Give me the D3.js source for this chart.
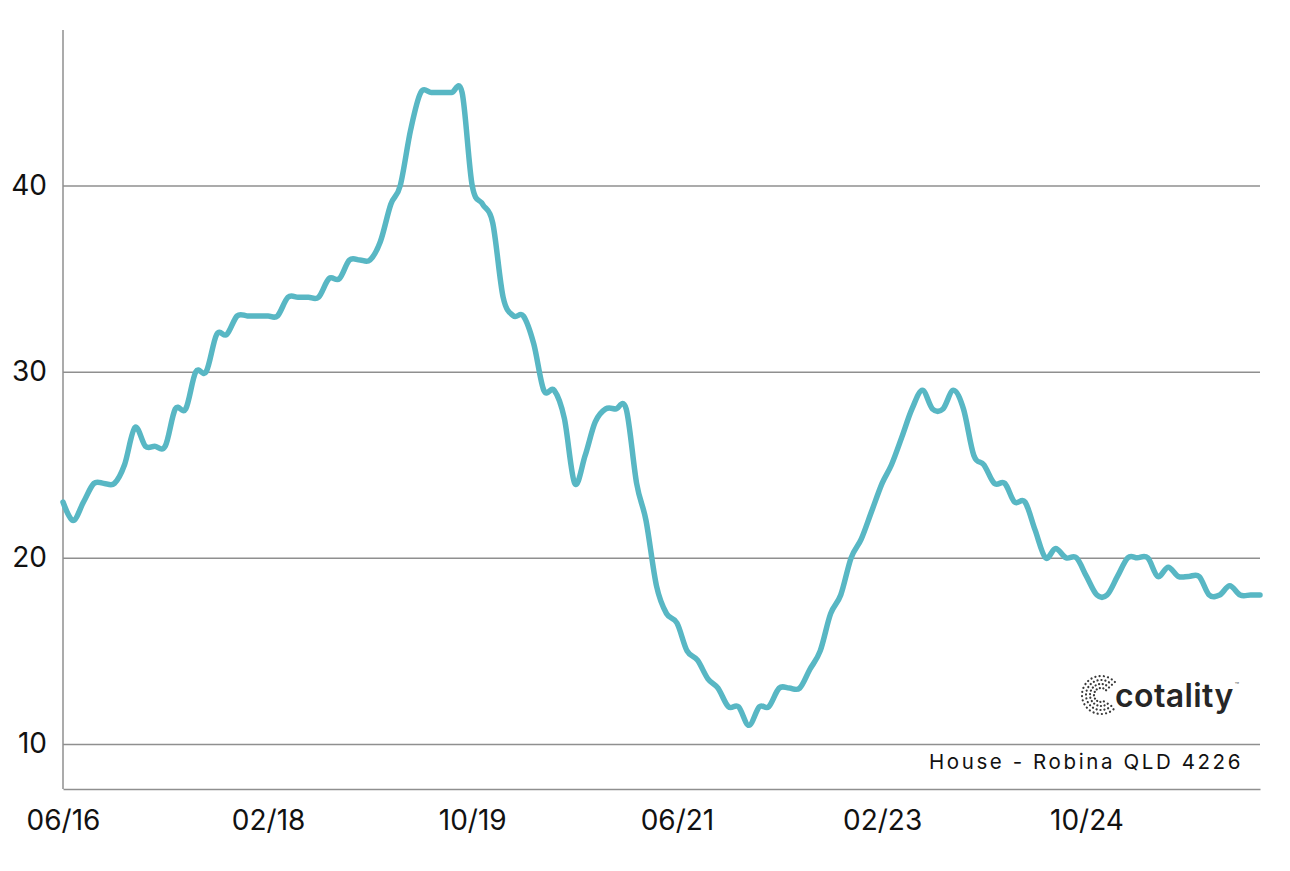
<!DOCTYPE html>
<html><head><meta charset="utf-8">
<script src="https://cdn.jsdelivr.net/npm/d3@7"></script>
<style>html,body{margin:0;padding:0;background:#fff;} svg{display:block;}</style>
</head><body><svg id="chart" width="1290" height="871"></svg>
<script>
// ---- data (monthly) ----
const startMonth = "06/16";
const values = [
  23, 22, 23, 24, 24, 24, 25, 27, 26, 26, 26, 28, 28, 30, 30, 32, 32, 33, 33, 33,
  33, 33, 34, 34, 34, 34, 35, 35, 36, 36, 36, 37, 39, 40, 43, 45, 45, 45, 45, 45,
  40, 39, 38, 34, 33, 33, 31.5, 29, 29, 27.5, 24, 25.5, 27.3, 28, 28, 28, 24, 22, 18.5, 17,
  16.5, 15, 14.5, 13.5, 13, 12, 12, 11, 12, 12, 13, 13, 13, 14, 15, 17, 18, 20, 21, 22.5,
  24, 25, 26.5, 28, 29, 28, 28, 29, 28, 25.5, 25, 24, 24, 23, 23, 21.5, 20, 20.5, 20, 20,
  19, 18, 18, 19, 20, 20, 20, 19, 19.5, 19, 19, 19, 18, 18, 18.5, 18, 18, 18
];
const xTickLabels = ["06/16", "02/18", "10/19", "06/21", "02/23", "10/24"];
const yTicks = [10, 20, 30, 40];
const seriesLabel = "House - Robina QLD 4226";
const brandName = "cotality";

// ---- layout ----
const L = 63, R = 1260, T = 30, B = 789;
const svg = d3.select("#chart");
const parse = d3.timeParse("%m/%y");
const start = parse(startMonth);
const data = values.map((v, i) => ({ date: d3.timeMonth.offset(start, i), value: v }));

const x = d3.scaleTime().domain(d3.extent(data, d => d.date)).range([L, R]);
const y = d3.scaleLinear().domain([7.58, 48.36]).range([B, T]);

const font = "Inter, 'Liberation Sans', Arial, sans-serif";

// y gridlines + labels
const yAxis = svg.append("g")
  .attr("transform", `translate(${L},0)`)
  .call(d3.axisLeft(y).tickValues(yTicks).tickSizeInner(-(R - L)).tickSizeOuter(0).tickPadding(16));
yAxis.select(".domain").remove();
yAxis.selectAll(".tick line").attr("stroke", "#8f8f8f").attr("stroke-width", 1.5);
yAxis.selectAll(".tick text").attr("font-family", font).attr("font-size", 28).attr("fill", "#111");

// axis lines
svg.append("line").attr("x1", L).attr("x2", L).attr("y1", T).attr("y2", B)
  .attr("stroke", "#8f8f8f").attr("stroke-width", 1.5);

// x axis
const xAxis = svg.append("g")
  .attr("transform", `translate(0,${B})`)
  .call(d3.axisBottom(x).tickValues(xTickLabels.map(parse)).tickFormat(d3.timeFormat("%m/%y")).tickSize(0).tickPadding(21));
xAxis.select(".domain").attr("stroke", "#8f8f8f").attr("stroke-width", 1.5);
xAxis.selectAll(".tick text").attr("font-family", font).attr("font-size", 28).attr("fill", "#111");

// line
const line = d3.line().x(d => x(d.date)).y(d => y(d.value)).curve(d3.curveCardinal);
svg.append("path").datum(data)
  .attr("d", line)
  .attr("fill", "none")
  .attr("stroke", "#58b7c4")
  .attr("stroke-width", 5.5)
  .attr("stroke-linejoin", "round")
  .attr("stroke-linecap", "round");

// series label
svg.append("text")
  .attr("x", 1243).attr("y", 769)
  .attr("text-anchor", "end")
  .attr("font-family", font).attr("font-size", 20.5).attr("letter-spacing", 2.6)
  .attr("fill", "#111")
  .text(seriesLabel);

// brand logo
const logo = svg.append("g");
const cx = 1101, cy = 695;
[7, 11, 15, 19].forEach((r, k) => {
  const p = d3.path();
  p.arc(cx, cy, r, -0.75, 0.75, true);
  logo.append("path").attr("d", p.toString())
    .attr("fill", "none").attr("stroke", "#3a3a3a")
    .attr("stroke-width", 2.2).attr("stroke-linecap", "round")
    .attr("stroke-dasharray", `0.1 ${3.2 + k * 0.3}`);
});
const brandText = logo.append("text")
  .attr("x", 1115).attr("y", 707)
  .attr("font-family", font).attr("font-size", 32).attr("font-weight", 600)
  .attr("letter-spacing", 0.4)
  .attr("fill", "#262626")
  .text(brandName);
const bb = brandText.node().getBBox();
logo.append("text")
  .attr("x", bb.x + bb.width + 1).attr("y", 688)
  .attr("font-family", font).attr("font-size", 7).attr("fill", "#555")
  .text("™");
</script>
</body></html>
